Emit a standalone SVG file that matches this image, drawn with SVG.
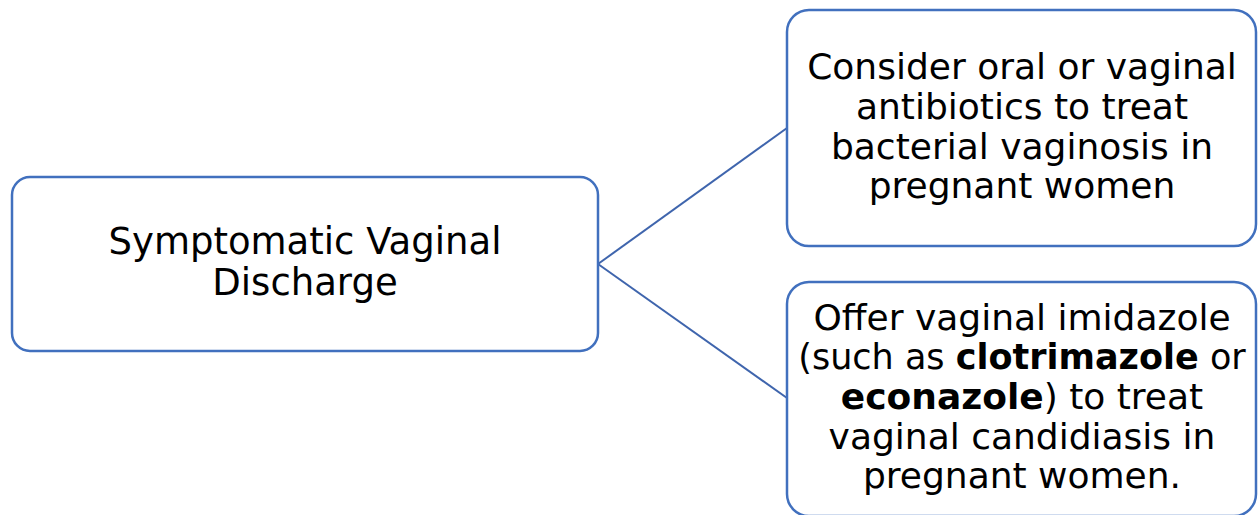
<svg xmlns="http://www.w3.org/2000/svg" width="1258" height="515" viewBox="0 0 1258 515">
<style>
.box{fill:#fff;stroke:#4170BE;stroke-width:2.5}
.conn{stroke:#3F65AD;stroke-width:2;fill:none}
text{font-family:"DejaVu Sans","Liberation Sans",sans-serif;fill:#000;text-anchor:middle}
.l{font-size:37px}
.r{font-size:36px}
.s{font-size:35px}
.b{font-weight:bold}
</style>
<rect width="1258" height="515" fill="#fff"/>
<g id="connectors">
<line class="conn" x1="598" y1="264" x2="787" y2="128"/>
<line class="conn" x1="598" y1="264" x2="787" y2="398"/>
</g>
<g id="node-discharge">
<rect class="box" x="12" y="177" width="586" height="174" rx="18"/>
<text class="l" x="305" y="254">Symptomatic Vaginal</text>
<text class="l" x="305" y="295">Discharge</text>
</g>
<g id="node-bv">
<rect class="box" x="787" y="10" width="469" height="236" rx="22"/>
<text class="r" x="1022" y="79">Consider oral or vaginal</text>
<text class="r" x="1022" y="119">antibiotics to treat</text>
<text class="r" x="1022" y="159">bacterial vaginosis in</text>
<text class="r" x="1022" y="198">pregnant women</text>
</g>
<g id="node-candida">
<rect class="box" x="787" y="282" width="469" height="234" rx="22"/>
<text class="r" x="1022" y="330">Offer vaginal imidazole</text>
<text class="s" x="1022" y="369">(such as <tspan class="b">clotrimazole</tspan> or</text>
<text class="r" x="1022" y="409"><tspan class="b">econazole</tspan>) to treat</text>
<text class="r" x="1022" y="449">vaginal candidiasis in</text>
<text class="r" x="1022" y="488">pregnant women.</text>
</g>
</svg>
